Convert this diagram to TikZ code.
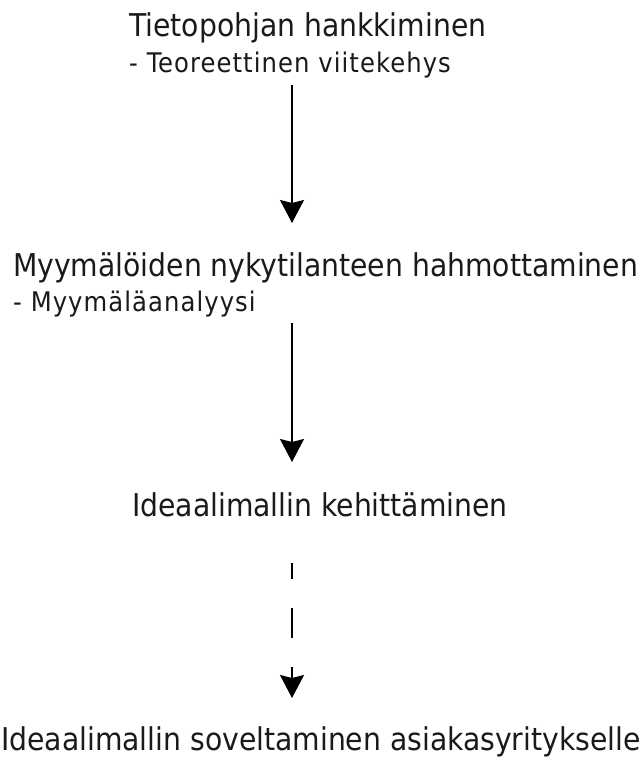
\documentclass[tikz,border=0pt]{standalone}
\usepackage{fontspec}
\setmainfont{DejaVu Sans Condensed}
\newfontfamily\subfont[LetterSpace=4]{DejaVu Sans Condensed}
\usetikzlibrary{arrows.meta}
\definecolor{ink}{HTML}{1A1A1A}
\tikzset{
  title/.style={inner sep=0pt, anchor=base west, text=ink, font=\fontsize{31.4}{34}\selectfont},
  sub/.style={inner sep=0pt, anchor=base west, text=ink, font=\subfont\fontsize{27}{30}\selectfont},
  flow/.style={line width=1.8pt, draw=black,
    -{Stealth[length=23pt, width=24pt, inset=3pt]}},
}
\begin{document}
\begin{tikzpicture}[x=1pt, y=-1pt]
  \useasboundingbox[fill=white] (0,0) rectangle (644,760);

  % step texts
  \node[title] (t1) at (129,37) {Tietopohjan hankkiminen};
  \node[sub]   (s1) at (t1.base west |- 0,72) {- Teoreettinen viitekehys};
  \node[title] (t2) at (13,276) {Myymälöiden nykytilanteen hahmottaminen};
  \node[sub]   (s2) at (t2.base west |- 0,311) {- Myymäläanalyysi};
  \node[title] (t3) at (132,516) {Ideaalimallin kehittäminen};
  \node[title, anchor=base] (t4) at (321,750) {Ideaalimallin soveltaminen asiakasyritykselle};

  % arrow ends
  \coordinate (a1s) at (292,85);
  \coordinate (a1e) at (292,223);
  \coordinate (a2s) at (292,323);
  \coordinate (a2e) at (292,462);
  \coordinate (a3s) at (292,563);
  \coordinate (a3e) at (292,698);

  \draw[flow] (a1s) -- (a1e);
  \draw[flow] (a2s) -- (a2e);
  \draw[flow, dash pattern=on 16pt off 29pt on 30pt off 29pt on 200pt] (a3s) -- (a3e);
\end{tikzpicture}
\end{document}
